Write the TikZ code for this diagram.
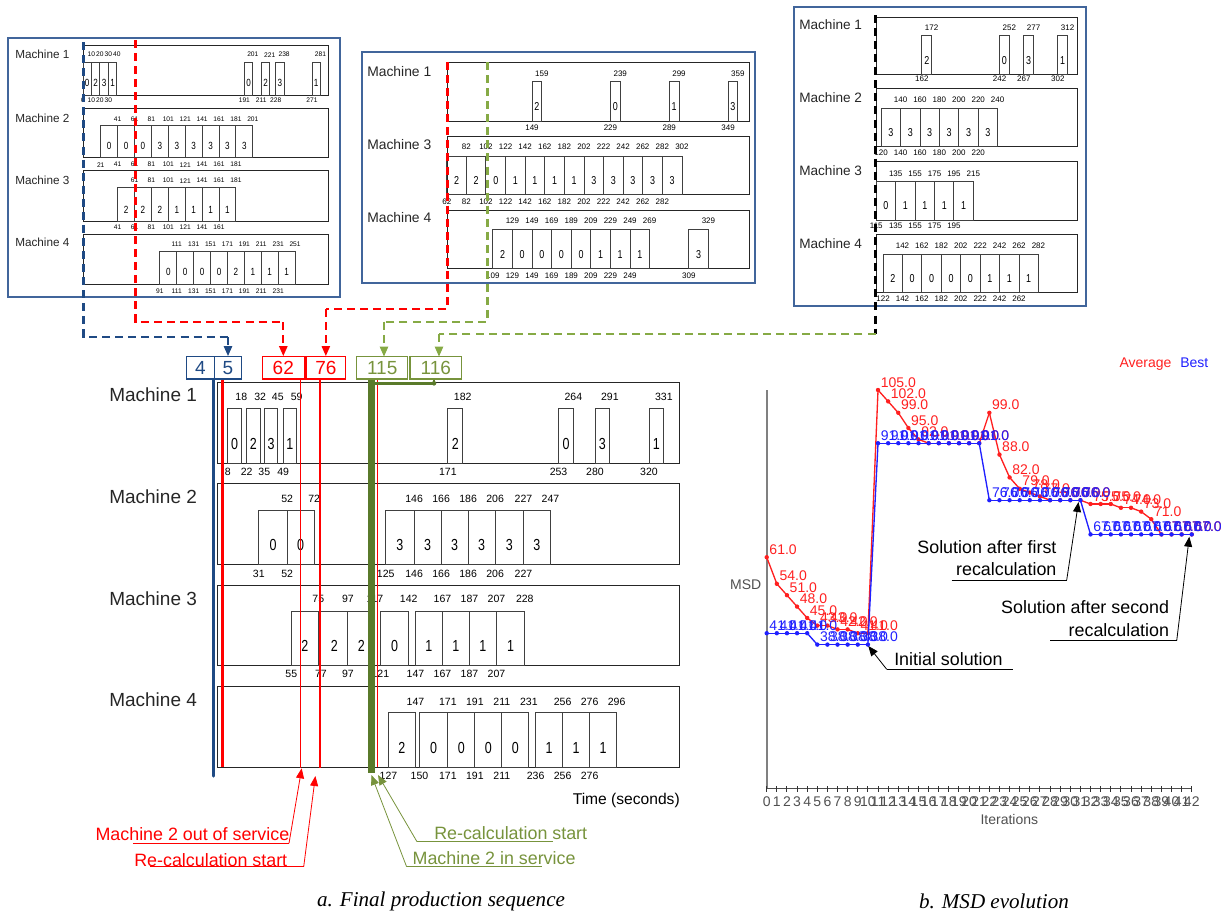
\documentclass[tikz,border=0pt]{standalone}
\usepackage{fontspec}
\setmainfont{Liberation Sans}
\newfontfamily\capfont{Liberation Serif}
\usetikzlibrary{arrows.meta}
\definecolor{frameblue}{HTML}{41659B}
\definecolor{navy}{HTML}{1F4A84}
\definecolor{olive}{HTML}{77933C}
\definecolor{darkolive}{HTML}{5A7A2A}
\definecolor{dashgreen}{HTML}{86AA45}
\definecolor{myred}{HTML}{FF0000}
\definecolor{dashred}{HTML}{FF0000}
\definecolor{pred}{HTML}{FF2020}
\definecolor{pblue}{HTML}{2020FF}
\definecolor{axisgray}{HTML}{808080}
\definecolor{txtgray}{HTML}{505050}
\newcommand\numfont{}
\newcommand\digfont{}
\newcommand\gO{0}\newcommand\gS{1}\newcommand\gL{0}\newcommand\gR{1}
% #1 frame top, #2 frame bottom, #3 bar top, #4 top label y, #5 bottom label y, #6 bars
\newcommand\ganttrow[6]{%
  \draw[frame] (\gL,#1) rectangle (\gR,#2);
  \foreach \ta/\tb/\td in {#6}{
    \pgfmathsetmacro\xa{\gO+\gS*\ta}
    \pgfmathsetmacro\xb{\gO+\gS*\tb}
    \pgfmathsetmacro\xm{(\xa+\xb)/2}
    \pgfmathsetmacro\yd{#3+0.64*(#2-#3)}
    \draw[bar] (\xa,#3) rectangle (\xb,#2);
    \node[font=\digfont, inner sep=0pt] at (\xm,\yd) {\scalebox{0.78}[1]{\td}};
    \node[font=\numfont, inner sep=0pt] at (\xb,#4) {\tb};
    \node[font=\numfont, inner sep=0pt] at (\xa,#5) {\ta};
  }
}
\begin{document}
\begin{tikzpicture}[x=0.75pt,y=-0.75pt,
  frame/.style={draw=black!85, line width=0.75pt},
  bar/.style={draw=black!75, line width=0.7pt},
  outer/.style={draw=frameblue, line width=0.9pt},
  mlabel/.style={anchor=west, inner sep=0pt, text=black!85},
  nbox/.style={draw=#1, text=#1, line width=0.8pt, inner sep=0pt, font=\fontsize{14.25}{15}\selectfont},
  ddash/.style={dash pattern=on 6pt off 3.8pt, line width=1.6pt},
  tip/.style={-{Triangle[length=7.5pt,width=6pt]}},
  ann/.style={inner sep=0pt, font=\fontsize{13.4}{15}\selectfont},
  plab/.style={inner sep=0pt, anchor=south west, font=\fontsize{10.5}{11}\selectfont}
]
\useasboundingbox (0,0) rectangle (1231,914);

%================ top-left box =================
\draw[outer] (8,38) rectangle (340,297);
\renewcommand\numfont{\fontsize{5}{6}\selectfont}
\renewcommand\digfont{\fontsize{7.8}{8}\selectfont}
\renewcommand\gO{83}\renewcommand\gS{0.845}\renewcommand\gL{83}\renewcommand\gR{328}
\foreach \yy/\k in {54/1,118/2,180/3,242/4}
  \node[mlabel, font=\fontsize{8.8}{9}\selectfont] (tl\k) at (15,\yy) {Machine \k};
\ganttrow{45}{95}{62}{54.7}{100.3}{0/10/0,10/20/2,20/30/3,30/40/1,191/201/0,211/221/2,228/238/3,271/281/1}
\ganttrow{108}{157}{125}{119}{164.7}{21/41/0,41/61/0,61/81/0,81/101/3,101/121/3,121/141/3,141/161/3,161/181/3,181/201/3}
\ganttrow{170}{221.7}{187.7}{180.7}{227}{41/61/2,61/81/2,81/101/2,101/121/1,121/141/1,141/161/1,161/181/1}
\ganttrow{234.3}{284.3}{251}{244.3}{291}{91/111/0,111/131/0,131/151/0,151/171/0,171/191/2,191/211/1,211/231/1,231/251/1}

%================ middle box =================
\draw[outer] (362,52) rectangle (755,283);
\renewcommand\numfont{\fontsize{6}{7}\selectfont}
\renewcommand\digfont{\fontsize{8.6}{9}\selectfont}
\renewcommand\gO{386}\renewcommand\gS{0.98}\renewcommand\gL{447}\renewcommand\gR{749}
\foreach \yy/\k in {72/1,145/3,218/4}
  \node[mlabel, font=\fontsize{10.4}{11}\selectfont] (tm\k) at (367,\yy) {Machine \k};
\ganttrow{62.3}{121}{81.7}{73.3}{127.7}{149/159/2,229/239/0,289/299/1,349/359/3}
\ganttrow{136}{194.3}{156}{146.7}{201.7}{62/82/2,82/102/2,102/122/0,122/142/1,142/162/1,162/182/1,182/202/1,202/222/3,222/242/3,242/262/3,262/282/3,282/302/3}
\ganttrow{210}{268.7}{229.3}{221}{275.7}{109/129/2,129/149/0,149/169/0,169/189/0,189/209/0,209/229/1,229/249/1,249/269/1,309/329/3}

%================ top-right box =================
\draw[outer] (794,7) rectangle (1086,306);
\renewcommand\gO{764.6}\renewcommand\gS{0.971}\renewcommand\gL{876}\renewcommand\gR{1077}
\foreach \yy/\k in {25/1,98/2,171/3,244/4}
  \node[mlabel, font=\fontsize{10.2}{11}\selectfont] (tr\k) at (799,\yy) {Machine \k};
\ganttrow{17.3}{74}{35.7}{27.7}{79}{162/172/2,242/252/0,267/277/3,302/312/1}
\ganttrow{88.3}{146.7}{108.3}{100}{152.7}{120/140/3,140/160/3,160/180/3,180/200/3,200/220/3,220/240/3}
\ganttrow{161.7}{220}{181}{173.3}{226}{115/135/0,135/155/1,155/175/1,175/195/1,195/215/1}
\ganttrow{234.3}{292.7}{254}{246}{298.3}{122/142/2,142/162/0,162/182/0,182/202/0,202/222/0,222/242/1,242/262/1,262/282/1}

%================ main chart =================
\renewcommand\numfont{\fontsize{7.9}{9}\selectfont}
\renewcommand\digfont{\fontsize{12}{13}\selectfont}
\renewcommand\gO{217}\renewcommand\gS{1.35}\renewcommand\gL{217}\renewcommand\gR{679}
\foreach \yy/\k in {395/1,496.7/2,598.3/3,699.3/4}
  \node[mlabel, font=\fontsize{14.25}{15}\selectfont] (mm\k) at (109,\yy) {Machine \k};
\ganttrow{382}{463.3}{408.7}{397.3}{471.7}{8/18/0,22/32/2,35/45/3,49/59/1,171/182/2,253/264/0,280/291/3,320/331/1}
\ganttrow{483.3}{564.3}{510.3}{498.7}{573.7}{31/52/0,52/72/0,125/146/3,146/166/3,166/186/3,186/206/3,206/227/3,227/247/3}
\ganttrow{585}{665}{611.7}{599.3}{674}{55/75/2,77/97/2,97/117/2,121/142/0,147/167/1,167/187/1,187/207/1,207/228/1}
\ganttrow{686.7}{767.3}{712.7}{701.7}{776}{127/147/2,150/171/0,171/191/0,191/211/0,211/231/0,236/256/1,256/276/1,276/296/1}
\node[inner sep=0pt, anchor=east, font=\fontsize{11.7}{13}\selectfont] (timelab) at (680,800) {Time (seconds)};

% number boxes
\node[nbox=navy, minimum width=20.7pt, minimum height=16.7pt] (b4) at (200.5,367.85) {4};
\node[nbox=navy, minimum width=20.5pt, minimum height=16.7pt] (b5) at (228,367.85) {5};
\node[nbox=myred, minimum width=31.5pt, minimum height=16.7pt] (b62) at (283.3,367.85) {62};
\node[nbox=myred, minimum width=29.8pt, minimum height=16.7pt] (b76) at (325.85,367.85) {76};
\node[nbox=olive, minimum width=38.25pt, minimum height=16.7pt] (b115) at (382.2,367.85) {115};
\node[nbox=olive, minimum width=38.8pt, minimum height=16.7pt] (b116) at (435.85,367.85) {116};

% vertical event lines
\draw[navy, line width=2.6pt, line cap=round] (b4.south -| 213.3,0) -- (213.3,776);
\draw[myred, line width=1.9pt] (b5.south -| 222.7,0) -- (222.7,767.3);
\draw[myred, line width=1pt] (b62.south -| 300.7,0) -- (300.7,768);
\draw[myred, line width=1pt] (b76.south -| 320,0) -- (320,768);
\draw[myred, line width=1pt] (b115.south -| 377.3,0) -- (377.3,767.3);
\draw[darkolive, line width=5.2pt] (b115.south -| 371.7,0) -- (371.7,773);
\draw[darkolive, line width=2.2pt, line join=round] (b116.south -| 434,0) -- (434,383.3) -- (375,383.3);
\fill[darkolive] (434,383.3) circle (2.3);

% dashed connectors from the top boxes
\coordinate (bl1) at (83.5,42);  \coordinate (bl2) at (83.5,337);
\draw[navy, ddash] (bl1) -- (bl2) -- (bl2 -| b5.north);
\draw[navy, ddash, tip] (bl2 -| b5.north) -- (b5.north);
\coordinate (rd1) at (135.5,40); \coordinate (rd1b) at (135.5,322);
\draw[dashred, ddash] (rd1) -- (rd1b) -- (rd1b -| b62.north);
\draw[dashred, ddash, tip] (rd1b -| b62.north) -- (b62.north);
\coordinate (rd2) at (447.5,62); \coordinate (rd2b) at (447.5,309);
\draw[dashred, ddash] (rd2) -- (rd2b) -- (rd2b -| b76.north);
\draw[dashred, ddash, tip] (rd2b -| b76.north) -- (b76.north);
\coordinate (gd1) at (487.5,62); \coordinate (gd1b) at (487.5,321.7);
\coordinate (t115) at (384,356.7);
\draw[dashgreen, ddash] (gd1) -- (gd1b) -- (gd1b -| t115);
\draw[dashgreen, ddash, tip] (gd1b -| t115) -- (t115);
\coordinate (gd2) at (875.5,15); \coordinate (gd2b) at (875.5,334);
\coordinate (t116) at (439,356.7);
\draw[black, ddash] (gd2) -- (gd2b);
\draw[dashgreen, ddash] (gd2b) -- (gd2b -| t116);
\draw[dashgreen, ddash, tip] (gd2b -| t116) -- (t116);

% bottom-left annotations
\node[ann, text=myred, anchor=base east] (rt1) at (289.5,840.5) {Machine 2 out of service};
\node[ann, text=myred, anchor=base east] (rt2) at (287.5,866) {Re-calculation start};
\coordinate (ru1a) at (132.8,843.3); \coordinate (ru1b) at (289,843.3); \coordinate (rp1) at (301.7,768.3);
\coordinate (ru2a) at (150.4,866.7); \coordinate (ru2b) at (303.7,866.7); \coordinate (rp2) at (315.4,776);
\draw[myred, line width=0.6pt] (ru1a) -- (ru1b);
\draw[myred, line width=0.6pt, tip] (ru1b) -- (rp1);
\draw[myred, line width=0.6pt] (ru2a) -- (ru2b);
\draw[myred, line width=0.6pt, tip] (ru2b) -- (rp2);
\node[ann, text=olive, anchor=base west] (gt1) at (434,839) {Re-calculation start};
\node[ann, text=olive, anchor=base west] (gt2) at (412.4,864.5) {Machine 2 in service};
\coordinate (gu1a) at (417,841.7); \coordinate (gu1b) at (553,841.7); \coordinate (gp1) at (378,775);
\coordinate (gu2a) at (406.6,866.7); \coordinate (gu2b) at (541.5,866.7); \coordinate (gp2) at (371.4,775);
\draw[olive, line width=0.6pt] (gu1b) -- (gu1a);
\draw[olive, line width=0.6pt, tip] (gu1a) -- (gp1);
\draw[olive, line width=0.6pt] (gu2b) -- (gu2a);
\draw[olive, line width=0.6pt, tip] (gu2a) -- (gp2);

%================ right chart =================
\node[inner sep=0pt, anchor=base west, text=pred, font=\fontsize{10.5}{11}\selectfont] (lavg) at (1119.3,367.5) {Average};
\node[inner sep=0pt, anchor=base west, text=pblue, font=\fontsize{10.5}{11}\selectfont] (lbest) at (1180,367.5) {Best};
\draw[axisgray, line width=1.5pt] (766.7,390) -- (766.7,788.3);
\draw[black!70, line width=1pt] (766.7,788.3) -- (1191.7,788.3);
\foreach \i in {0,...,42}{
  \pgfmathsetmacro\xx{766.7+10.12*\i}
  \draw[black!80, line width=0.75pt] (\xx,786) -- (\xx,792);
  \node[inner sep=0pt, text=txtgray, font=\fontsize{10.5}{11}\selectfont] at (\xx,801.7) {\i};
}
\node[inner sep=0pt, text=txtgray, font=\fontsize{10.5}{11}\selectfont] (itlab) at (1009.3,819.3) {Iterations};
\node[inner sep=0pt, text=txtgray, font=\fontsize{10.5}{11}\selectfont] (msdlab) at (745.7,584.3) {MSD};

% average series
\foreach \i/\v [remember=\i as \pi (initially 0), remember=\v as \pv (initially 61)] in
 {0/61,1/54,2/51,3/48,4/45,5/43,6/43,7/42,8/42,9/41,10/41,11/105,12/102,13/99,14/95,15/92,16/91,17/91,18/91,19/91,20/91,21/91,22/99,23/88,24/82,25/79,26/78,27/77,28/76,29/76,30/76,31/76,32/75,33/75,34/75,35/74,36/74,37/73,38/71,39/67,40/67,41/67,42/67}{
  \draw[pred, line width=1pt] ({766.7+10.12*\pi},{789-3.8*\pv}) -- ({766.7+10.12*\i},{789-3.8*\v});
}
\foreach \i/\v in
 {0/61,1/54,2/51,3/48,4/45,5/43,6/43,7/42,8/42,9/41,10/41,11/105,12/102,13/99,14/95,15/92,16/91,17/91,18/91,19/91,20/91,21/91,22/99,23/88,24/82,25/79,26/78,27/77,28/76,29/76,30/76,31/76,32/75,33/75,34/75,35/74,36/74,37/73,38/71,39/67,40/67,41/67,42/67}{
  \fill[pred] ({766.7+10.12*\i},{789-3.8*\v}) circle (2.2);
  \node[plab, text=pred] at ({769.2+10.12*\i},{786.5-3.8*\v}) {\v.0};
}
% best series
\foreach \i/\v [remember=\i as \pi (initially 0), remember=\v as \pv (initially 41)] in
 {0/41,1/41,2/41,3/41,4/41,5/38,6/38,7/38,8/38,9/38,10/38,11/91,12/91,13/91,14/91,15/91,16/91,17/91,18/91,19/91,20/91,21/91,22/76,23/76,24/76,25/76,26/76,27/76,28/76,29/76,30/76,31/76,32/67,33/67,34/67,35/67,36/67,37/67,38/67,39/67,40/67,41/67,42/67}{
  \draw[pblue, line width=1pt] ({766.7+10.12*\pi},{789-3.8*\pv}) -- ({766.7+10.12*\i},{789-3.8*\v});
}
\foreach \i/\v in
 {0/41,1/41,2/41,3/41,4/41,5/38,6/38,7/38,8/38,9/38,10/38,11/91,12/91,13/91,14/91,15/91,16/91,17/91,18/91,19/91,20/91,21/91,22/76,23/76,24/76,25/76,26/76,27/76,28/76,29/76,30/76,31/76,32/67,33/67,34/67,35/67,36/67,37/67,38/67,39/67,40/67,41/67,42/67}{
  \fill[pblue] ({766.7+10.12*\i},{789-3.8*\v}) circle (2.2);
  \node[plab, text=pblue] at ({769.2+10.12*\i},{786.5-3.8*\v}) {\v.0};
}

% chart annotations
\node[ann, anchor=base east] (a1a) at (1056.7,553) {Solution after first};
\node[ann, anchor=base east] (a1b) at (1056.7,575) {recalculation};
\coordinate (au1a) at (951.7,580); \coordinate (au1b) at (1066.7,580); \coordinate (ap1) at (1078.5,502);
\draw[line width=0.6pt] (au1a) -- (au1b);
\draw[line width=0.6pt, tip] (au1b) -- (ap1);
\node[ann, anchor=base east] (a2a) at (1169.3,613) {Solution after second};
\node[ann, anchor=base east] (a2b) at (1169.3,636) {recalculation};
\coordinate (au2a) at (1050,640.7); \coordinate (au2b) at (1176.7,640.7); \coordinate (ap2) at (1189.3,536.7);
\draw[line width=0.6pt] (au2a) -- (au2b);
\draw[line width=0.6pt, tip] (au2b) -- (ap2);
\node[ann, anchor=base west] (a3) at (894,665.5) {Initial solution};
\coordinate (au3a) at (886.7,669.3); \coordinate (au3b) at (1012.7,669.3); \coordinate (ap3) at (868.3,646);
\draw[line width=0.6pt] (au3b) -- (au3a);
\draw[line width=0.6pt, tip] (au3a) -- (ap3);

% captions
\node[inner sep=0pt, font=\capfont\itshape\fontsize{15.8}{17}\selectfont] (capa) at (441,901) {a. Final production sequence};
\node[inner sep=0pt, font=\capfont\itshape\fontsize{15.8}{17}\selectfont] (capb) at (994,901) {b. MSD evolution};
\end{tikzpicture}
\end{document}
